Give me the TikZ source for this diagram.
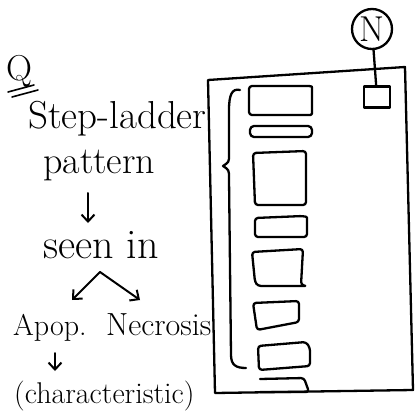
\documentclass[tikz,border=0pt]{standalone}
\usetikzlibrary{arrows.meta}
\begin{document}
\begin{tikzpicture}[x=1pt,y=-1pt,
  ink/.style={line width=2.3pt, line cap=round, line join=round},
  band/.style={ink, rounded corners=3pt},
  hand/.style={inner sep=0pt, anchor=base west},
  tip/.style={ink, line width=2pt, -{Straight Barb[length=7pt,width=13pt]}}]
\useasboundingbox (0,0) rectangle (418,420);

% ---- left column: notes ----
\node[hand, font=\fontsize{36}{36}\selectfont] (q) at (6,81) {Q};
\draw[ink, line width=1.6pt] (8,92) -- (34,85);
\draw[ink, line width=1.6pt] (12,97) -- (38,90);

\node[hand, font=\fontsize{39}{40}\selectfont] (step) at (28,128) {Step-ladder};
\node[hand, font=\fontsize{38}{38}\selectfont] (pat) at (43,173) {pattern};
\node[hand, font=\fontsize{42}{42}\selectfont] (seen) at (43,258) {seen in};

\coordinate (a1) at (88,193);
\coordinate (a2) at (88,223);
\draw[tip] (a1) -- (a2);

\coordinate (peak) at (100,272);
\coordinate (lend) at (72,300);
\coordinate (rend) at (140,300);
\draw[tip] (peak) -- (lend);
\draw[tip] (peak) -- (rend);

\node[hand, font=\fontsize{30}{30}\selectfont] (apop) at (13,335) {Apop.};
\node[hand, font=\fontsize{32}{32}\selectfont] (necro) at (106,335) {Necrosis};

\coordinate (b1) at (55,353);
\coordinate (b2) at (55,371);
\draw[tip] (b1) -- (b2);

\node[hand, font=\fontsize{30}{30}\selectfont] (char) at (14,403) {(characteristic)};

% ---- gel ----
\draw[ink] (208,80) -- (405,67) -- (413,390) -- (215,393) -- cycle;

% brace grouping the ladder
\draw[ink] (240,90) .. controls (232,88) and (229,95) .. (229,110)
  -- (229,155) .. controls (229,162) .. (223,166)
  .. controls (229,170) .. (229,178) -- (231,355)
  .. controls (231,365) and (236,368) .. (246,368);

% ladder bands
\draw[band] (249,86) -- (306,86) .. controls (312,86) .. (312,93) -- (312,108)
  .. controls (312,115) .. (305,115) -- (249,115) -- cycle;
\draw[band, rounded corners=4pt] (250,126) rectangle (312,137);
\draw[band] (253,153) -- (306,151) -- (306,205) -- (255,205) -- cycle;
\draw[band] (255,218) -- (303,216) .. controls (307,217) .. (307,225) -- (307,237) -- (255,237) -- cycle;
\draw[band] (252,252) -- (303,249) -- (301,285) -- (307,286) -- (258,286) -- (255,282) -- cycle;
\draw[band] (253,303) -- (299,301) -- (299,322) -- (257,330) -- cycle;
\draw[band] (258,346) -- (306,342) -- (310,348) -- (310,366) -- (259,370) -- cycle;
\draw[band] (260,379) -- (304,378) -- (309,392) -- (260,392);

% well marker with nucleus label
\node[ink, draw, circle, minimum size=40pt, inner sep=0pt,
  font=\fontsize{36}{36}\selectfont] (nc) at (372,29) {N};
\node[ink, draw, minimum width=26pt, minimum height=21pt, inner sep=0pt] (sq) at (377,97) {};
\draw[ink] (nc) -- (sq);
\end{tikzpicture}
\end{document}
